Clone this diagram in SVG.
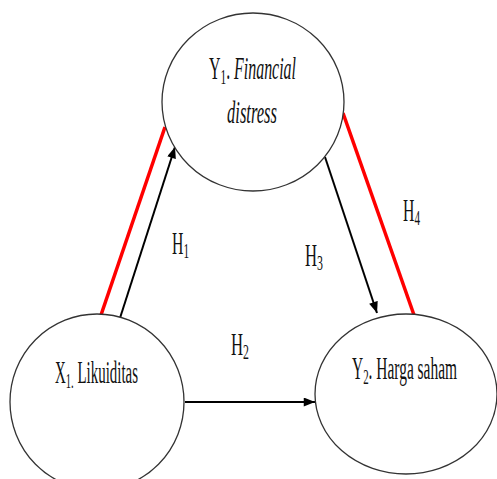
<svg xmlns="http://www.w3.org/2000/svg" width="497" height="479" viewBox="0 0 497 479">
<style>
.node{fill:#fff;stroke:#333;stroke-width:1.3}
.t{font-family:"Liberation Serif","Times New Roman",serif;font-size:31px;fill:#111}
.sub{font-size:22px}
.red{stroke:#ff0000;stroke-width:3.5;fill:none}
.arr{stroke:#000;stroke-width:2;fill:none}
</style>
<defs>
<marker id="ah" viewBox="0 0 10 8" refX="10" refY="4" markerWidth="12" markerHeight="9" markerUnits="userSpaceOnUse" orient="auto">
<path d="M0,0 L10,4 L0,8 z" fill="#000"/>
</marker>
</defs>
<g id="connectors">
<line class="red" x1="101" y1="315" x2="165" y2="127"/>
<line class="red" x1="343" y1="113" x2="414" y2="315"/>
<line class="arr" x1="120" y1="318" x2="175" y2="147" marker-end="url(#ah)"/>
<line class="arr" x1="325" y1="157" x2="377" y2="313" marker-end="url(#ah)"/>
<line class="arr" x1="185" y1="402" x2="315" y2="402" stroke-width="3.2" marker-end="url(#ah)"/>
</g>
<g id="Y1">
<ellipse class="node" cx="253" cy="102" rx="91" ry="89"/>
<text class="t" x="209" y="79" textLength="87" lengthAdjust="spacingAndGlyphs">Y<tspan class="sub" dy="5">1</tspan><tspan dy="-5">. </tspan><tspan font-style="italic">Financial</tspan></text>
<text class="t" x="227" y="123" textLength="50" lengthAdjust="spacingAndGlyphs" font-style="italic">distress</text>
</g>
<g id="X1">
<ellipse class="node" cx="97" cy="402" rx="87" ry="88"/>
<text class="t" x="55" y="383" textLength="83" lengthAdjust="spacingAndGlyphs">X<tspan class="sub" dy="5">1.</tspan><tspan dy="-5"> Likuiditas</tspan></text>
</g>
<g id="Y2">
<ellipse class="node" cx="406" cy="394" rx="91" ry="80"/>
<text class="t" x="352" y="379" textLength="105" lengthAdjust="spacingAndGlyphs">Y<tspan class="sub" dy="5">2</tspan><tspan dy="-5">. Harga saham</tspan></text>
</g>
<g id="labels">
<text class="t" x="172" y="254" textLength="17" lengthAdjust="spacingAndGlyphs">H<tspan class="sub" dy="4">1</tspan></text>
<text class="t" x="231" y="355" textLength="18" lengthAdjust="spacingAndGlyphs">H<tspan class="sub" dy="4">2</tspan></text>
<text class="t" x="305" y="266" textLength="18" lengthAdjust="spacingAndGlyphs">H<tspan class="sub" dy="4">3</tspan></text>
<text class="t" x="403" y="221" textLength="17" lengthAdjust="spacingAndGlyphs">H<tspan class="sub" dy="4">4</tspan></text>
</g>
</svg>
